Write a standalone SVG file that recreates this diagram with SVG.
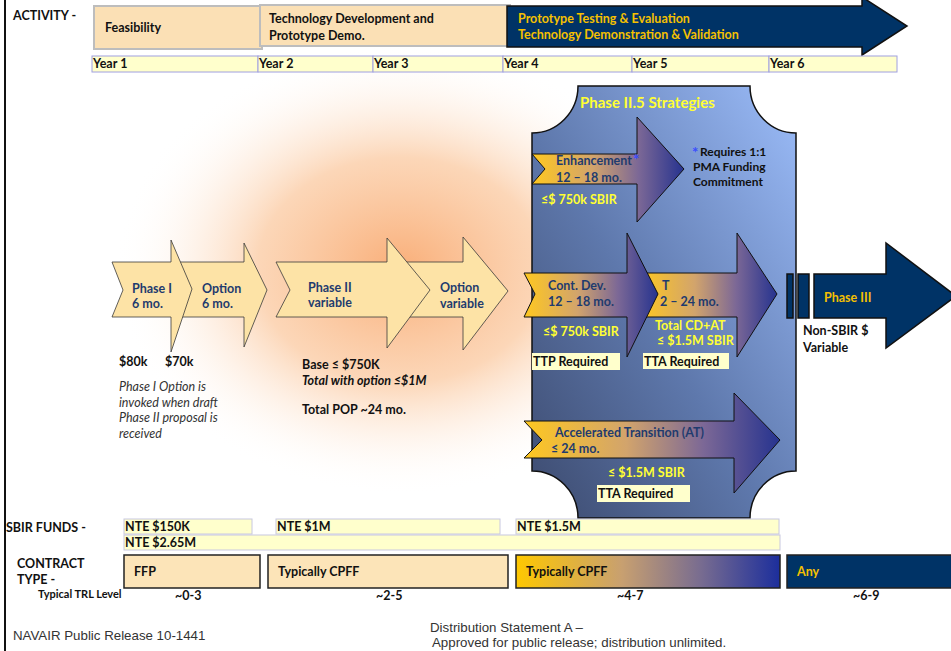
<svg xmlns="http://www.w3.org/2000/svg" width="951" height="651" viewBox="0 0 951 651">
<style>
text{font-family:Lato,"Open Sans","Liberation Sans",sans-serif;font-weight:bold;font-size:12.5px}
.k{fill:#111}
.n{fill:#1F3B6E}
.y{fill:#FFFF33}
.g{fill:#F5C000}
.it{font-style:italic;font-weight:normal;fill:#333}
.bi{font-style:italic}
.sm{font-size:12px}
.title{font-size:15px}
.trl{font-size:11px}
.ast{fill:#3A4CFF;font-size:15px}
.yr{fill:#FFFFCC;stroke:#A0A0E0;stroke-width:1}
.fund{fill:#FFFFCC;stroke:#C8C8E0;stroke-width:1}
.pch{fill:#FDE3A6;stroke:#3A3A3A;stroke-width:0.8}
.strat{fill:url(#sg);stroke:#111;stroke-width:1}
.navy{fill:#003366;stroke:#111;stroke-width:1.5}
.req{fill:#FFFFCC}
.ft{font-family:"Liberation Sans",Arial,sans-serif;font-weight:normal;fill:#333;font-size:13.3px}
</style>
<defs>
<radialGradient id="glow" cx="0.5" cy="0.5" r="0.5">
<stop offset="0" stop-color="#F9AE78"/>
<stop offset="0.5" stop-color="#FBC9A0" stop-opacity="0.75"/>
<stop offset="1" stop-color="#FFFFFF" stop-opacity="0"/>
</radialGradient>
<linearGradient id="boxg" x1="0" y1="1" x2="1" y2="0">
<stop offset="0" stop-color="#3C4A6E"/>
<stop offset="0.45" stop-color="#5E78AC"/>
<stop offset="1" stop-color="#9CBDFA"/>
</linearGradient>
<linearGradient id="sg" x1="0" y1="0" x2="1" y2="0">
<stop offset="0" stop-color="#FFC820"/>
<stop offset="0.4" stop-color="#D2A46C"/>
<stop offset="0.7" stop-color="#7C6896"/>
<stop offset="1" stop-color="#26338F"/>
</linearGradient>
<linearGradient id="cg" x1="0" y1="0" x2="1" y2="0">
<stop offset="0" stop-color="#FFC800"/>
<stop offset="0.4" stop-color="#C8A070"/>
<stop offset="0.7" stop-color="#786C90"/>
<stop offset="1" stop-color="#1C2E9C"/>
</linearGradient>
</defs>
<rect width="951" height="651" fill="#FFFFFF"/>
<ellipse cx="400" cy="270" rx="285" ry="225" fill="url(#glow)"/>
<line x1="5" y1="0" x2="5" y2="651" stroke="#111" stroke-width="2"/>

<g id="activity">
<text class="k" x="13" y="20">ACTIVITY -</text>
<g id="feasibility"><rect x="94" y="6" width="168" height="43" fill="#FBE0B5" stroke="#BDBDBD" stroke-width="2"/><text class="k" x="105" y="32">Feasibility</text></g>
<g id="techdev"><rect x="260" y="5" width="250" height="41" fill="#FBE0B5" stroke="#BDBDBD" stroke-width="2"/><text class="k" x="269" y="23">Technology Development and</text><text class="k" x="269" y="40">Prototype Demo.</text></g>
<g id="prototype"><path class="navy" d="M507,6 L862,6 L862,-3 L907,26 L862,55 L862,47 L507,47 Z"/><text class="g" x="518" y="23">Prototype Testing &amp; Evaluation</text><text class="g" x="518" y="39">Technology Demonstration &amp; Validation</text></g>
</g>

<g id="years">
<rect class="yr" x="92" y="56" width="166" height="16"/><text class="k" x="93" y="68">Year 1</text>
<rect class="yr" x="258" y="56" width="115" height="16"/><text class="k" x="259" y="68">Year 2</text>
<rect class="yr" x="373" y="56" width="130" height="16"/><text class="k" x="374" y="68">Year 3</text>
<rect class="yr" x="503" y="56" width="129" height="16"/><text class="k" x="504" y="68">Year 4</text>
<rect class="yr" x="632" y="56" width="137" height="16"/><text class="k" x="633" y="68">Year 5</text>
<rect class="yr" x="769" y="56" width="128" height="16"/><text class="k" x="770" y="68">Year 6</text>
</g>

<g id="phase1">
<path class="pch" d="M176,262 L244,262 L244,243 L267,290 L244,347 L244,317 L176,317 L184,290 Z"/>
<path class="pch" d="M112,262 L171,262 L171,240 L192,289 L171,352 L171,317 L112,317 L123,290 Z"/>
<text class="n" x="132" y="293">Phase I</text><text class="n" x="132" y="308">6 mo.</text>
<text class="n" x="202" y="293">Option</text><text class="n" x="202" y="308">6 mo.</text>
<text class="k" x="119" y="366">$80k</text><text class="k" x="165" y="366">$70k</text>
<text class="it" x="119" y="391">Phase I Option is</text>
<text class="it" x="119" y="407">invoked when draft</text>
<text class="it" x="119" y="422">Phase II proposal is</text>
<text class="it" x="119" y="438">received</text>
</g>

<g id="phase2">
<path class="pch" d="M400,262 L463,262 L463,237 L508,291 L463,350 L463,317 L400,317 L412,290 Z"/>
<path class="pch" d="M276,262 L387,262 L387,238 L430,290 L387,348 L387,317 L276,317 L290,290 Z"/>
<text class="n" x="308" y="292">Phase II</text><text class="n" x="308" y="307">variable</text>
<text class="n" x="440" y="292">Option</text><text class="n" x="440" y="308">variable</text>
<text class="k" x="302" y="369">Base ≤ $750K</text>
<text class="k bi" x="302" y="385">Total with option ≤$1M</text>
<text class="k" x="302" y="414">Total POP ~24 mo.</text>
</g>

<g id="phase25">
<path d="M578,86 L750,86 A46,47 0 0 0 796,133 L796,471 A46,47 0 0 0 750,518 L578,518 A46,47 0 0 0 532,471 L532,133 A46,47 0 0 0 578,86 Z" fill="url(#boxg)" stroke="#111" stroke-width="1.5"/>
<text class="y title" x="580" y="108">Phase II.5 Strategies</text>
<g id="enhancement">
<path class="strat" d="M532,154 L637,154 L637,117 L684,169 L637,222 L637,184 L532,184 L545,169 Z"/>
<text class="n" x="556" y="165">Enhancement</text><text class="ast" x="633" y="165">*</text>
<text class="n" x="556" y="182">12 – 18 mo.</text>
<text class="y" x="541" y="204">≤$ 750k SBIR</text>
<text class="ast" x="692" y="158">*</text><text class="k sm" x="700" y="156">Requires 1:1</text>
<text class="k sm" x="693" y="171">PMA Funding</text>
<text class="k sm" x="693" y="186">Commitment</text>
</g>
<g id="at-cd">
<path class="strat" d="M640,273 L737,273 L737,233 L777,294 L737,357 L737,317 L640,317 L652,294 Z"/>
<text class="n" x="662" y="290">T</text>
<text class="n" x="660" y="306">2 – 24 mo.</text>
<text class="y" x="655" y="330">Total CD+AT</text>
<text class="y" x="657" y="345">≤ $1.5M SBIR</text>
<rect class="req" x="643" y="353" width="86" height="16"/><text class="k" x="644" y="366">TTA Required</text>
</g>
<g id="contdev">
<path class="strat" d="M524,273 L627,273 L627,233 L658,294 L627,357 L627,317 L524,317 L535,294 Z"/>
<text class="n" x="548" y="290">Cont. Dev.</text>
<text class="n" x="548" y="306">12 – 18 mo.</text>
<text class="y" x="543" y="336">≤$ 750k SBIR</text>
<rect class="req" x="532" y="353" width="88" height="17"/><text class="k" x="533" y="366">TTP Required</text>
</g>
<g id="accel">
<path class="strat" d="M524,421 L734,421 L734,393 L780,440 L734,493 L734,458 L524,458 L542,440 Z"/>
<text class="n" x="555" y="437">Accelerated Transition (AT)</text>
<text class="n" x="551" y="453">≤ 24 mo.</text>
<text class="y" x="608" y="477">≤ $1.5M SBIR</text>
<rect class="req" x="597" y="485" width="93" height="17"/><text class="k" x="598" y="498">TTA Required</text>
</g>
</g>

<g id="phase3">
<rect class="navy" x="787" y="274" width="6" height="44"/>
<rect class="navy" x="798" y="274" width="11" height="44"/>
<path class="navy" d="M814,274 L886,274 L886,243 L956,296 L886,348 L886,318 L814,318 Z"/>
<text class="g" x="824" y="302">Phase III</text>
<text class="k" x="803" y="335">Non-SBIR $</text>
<text class="k" x="803" y="352">Variable</text>
</g>

<g id="funds">
<text class="k" x="6" y="532">SBIR FUNDS -</text>
<rect class="fund" x="124" y="519" width="128" height="15"/><text class="k" x="125" y="531">NTE $150K</text>
<rect class="fund" x="276" y="519" width="224" height="15"/><text class="k" x="277" y="531">NTE $1M</text>
<rect class="fund" x="516" y="519" width="263" height="15"/><text class="k" x="517" y="531">NTE $1.5M</text>
<rect class="fund" x="124" y="535" width="656" height="15"/><text class="k" x="125" y="547">NTE $2.65M</text>
</g>

<g id="contract">
<text class="k" x="17" y="568">CONTRACT</text>
<text class="k" x="17" y="584">TYPE -</text>
<text class="k trl" x="38" y="598">Typical TRL Level</text>
<rect x="124" y="555" width="136" height="33" fill="#FCE4B8" stroke="#222" stroke-width="1.5"/><text class="k" x="134" y="576">FFP</text>
<rect x="268" y="555" width="240" height="33" fill="#FCE4B8" stroke="#222" stroke-width="1.5"/><text class="k" x="278" y="576">Typically CPFF</text>
<rect x="516" y="555" width="264" height="33" fill="url(#cg)" stroke="#222" stroke-width="1.5"/><text class="k" x="526" y="576">Typically CPFF</text>
<rect x="787" y="555" width="170" height="33" fill="#003366" stroke="#222" stroke-width="1.5"/><text class="g" x="797" y="576">Any</text>
<text class="k" x="175" y="600">~0-3</text>
<text class="k" x="376" y="600">~2-5</text>
<text class="k" x="617" y="600">~4-7</text>
<text class="k" x="853" y="600">~6-9</text>
</g>

<g id="footer">
<text class="ft" x="13" y="640">NAVAIR Public Release 10-1441</text>
<text class="ft" x="430" y="632">Distribution Statement A –</text>
<text class="ft" x="432" y="647">Approved for public release; distribution unlimited.</text>
</g>
</svg>
